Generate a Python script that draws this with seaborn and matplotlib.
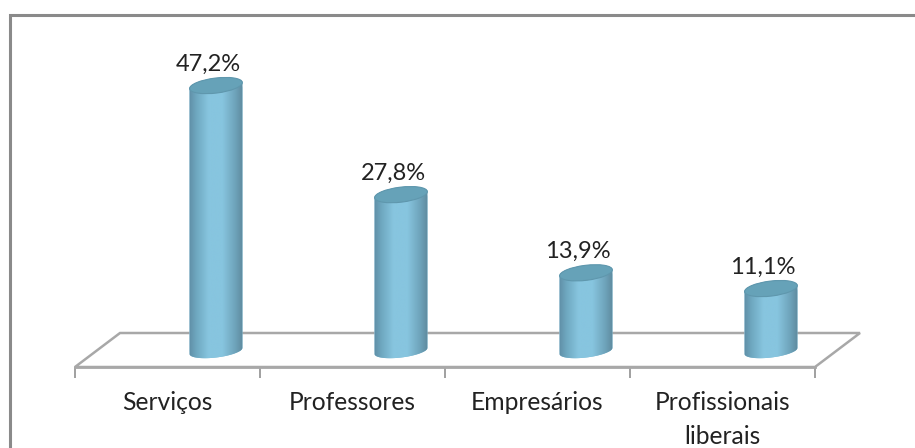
import numpy as np
import pandas as pd
import matplotlib
matplotlib.use("Agg")
import matplotlib.pyplot as plt
import seaborn as sns
from matplotlib.colors import LinearSegmentedColormap
from matplotlib.patches import Ellipse, Polygon, Rectangle
from matplotlib.transforms import IdentityTransform

categories = ["Serviços", "Professores", "Empresários", "Profissionais\nliberais"]
values = [47.2, 27.8, 13.9, 11.1]
value_labels = ["47,2%", "27,8%", "13,9%", "11,1%"]

W, H = 915, 448
sns.set_theme(style="white")
plt.rcParams["font.family"] = ["Lato", "DejaVu Sans"]
fig = plt.figure(figsize=(W / 100, H / 100), dpi=100, facecolor="white")

# frame around the chart: only its top and left edges fall inside the picture
fig.add_artist(Rectangle((9.5 / W, -0.05), 1.1, 1.05 - 15.5 / H, transform=fig.transFigure,
                         fill=False, edgecolor="#8a8a8a", linewidth=2.2))

L, R, T, B = 75, 815, 40, 367
ax = fig.add_axes([L / W, 1 - B / H, (R - L) / W, (B - T) / H])
ax.patch.set_alpha(0)

df = pd.DataFrame({"cat": categories, "val": values})
BAR_W = 0.287
SHIFT = 0.262
sns.barplot(data=df, x="cat", y="val", ax=ax, width=BAR_W, color="#7fbcd6", saturation=1,
            order=categories, zorder=3)
ax.set_xlim(-0.5, 3.5)
ax.set_ylim(-2.85, 55.3)

cmap = LinearSegmentedColormap.from_list(
    "cyl", [(0, "#5f8ea6"), (0.14, "#6fa8c0"), (0.36, "#87c5df"), (0.62, "#87c5df"),
            (0.86, "#6ea3ba"), (1, "#5f8a9e")])
grad = np.linspace(0, 1, 256).reshape(1, -1)

ax.set_xticks(range(4))
ax.set_xticklabels(categories, fontsize=17.7, color="#222222", linespacing=1.6)
ax.set_xticks(np.arange(-0.5, 4, 1), minor=True)
ax.tick_params(axis="x", which="major", length=0, pad=17)
ax.tick_params(axis="x", which="minor", length=8, width=1.4, color="#a0a0a0", bottom=True)
ax.set_xlabel("")
ax.set_ylabel("")
ax.set_yticks([])
sns.despine(ax=ax, left=True)
ax.spines["bottom"].set_color("#a8a8a8")
ax.spines["bottom"].set_linewidth(2)

# floor parallelogram
depth_x, depth_y = 45 / (R - L), 34 / (B - T)
floor = Polygon([(0, 0), (1, 0), (1 + depth_x, depth_y), (depth_x, depth_y)], closed=True,
                transform=ax.transAxes, fill=False, edgecolor="#a8a8a8", linewidth=1.8,
                clip_on=False, zorder=1)
ax.add_patch(floor)

bar_px = BAR_W * (R - L) / 4
TILT = np.deg2rad(7)


def arc(px, py, height, start, stop):
    """Points of a tilted ellipse between two parameter angles, in display space."""
    t = np.linspace(start, stop, 60)
    ex, ey = bar_px / 2 * np.cos(t), height / 2 * np.sin(t)
    return np.column_stack([px + ex * np.cos(TILT) - ey * np.sin(TILT),
                            py + ex * np.sin(TILT) + ey * np.cos(TILT)])


for bar, v, txt in zip(ax.patches[:4], values, value_labels):
    bar.set_x(bar.get_x() + SHIFT)
    x0, w = bar.get_x(), bar.get_width()
    cx = x0 + w / 2
    px, py_top = ax.transData.transform((cx, v))
    _, py_bot = ax.transData.transform((cx, 0))
    # cylinder outline: across the top ellipse, down, then round the foot
    outline = np.vstack([arc(px, py_top, 15, np.pi, 0), arc(px, py_bot, 13, 0, -np.pi)])
    body = Polygon(outline, closed=True, transform=IdentityTransform())
    foot = Polygon(outline, closed=True, transform=IdentityTransform(),
                   facecolor="#7fbcd6", edgecolor="none", zorder=3, clip_on=False)
    ax.add_patch(foot)
    bar.set_clip_path(body)
    im = ax.imshow(grad, extent=(x0, x0 + w, -2, v + 1), aspect="auto", cmap=cmap, zorder=3.2,
                   clip_on=True)
    im.set_clip_path(body)
    top = Ellipse((px, py_top), bar_px, 15, angle=np.rad2deg(TILT), transform=IdentityTransform(),
                  facecolor="#66a2b8", edgecolor="#5f97ad", linewidth=0.8, zorder=3.5)
    ax.add_patch(top)
    ax.annotate(txt, (cx, v), xytext=(-8, 11), textcoords="offset pixels", ha="center", va="bottom",
                fontsize=17, color="#222222", zorder=5, annotation_clip=False)
ax.set_xlim(-0.5, 3.5)
ax.set_ylim(-2.85, 55.3)
fig.savefig("out.png", dpi=100, facecolor="white")
